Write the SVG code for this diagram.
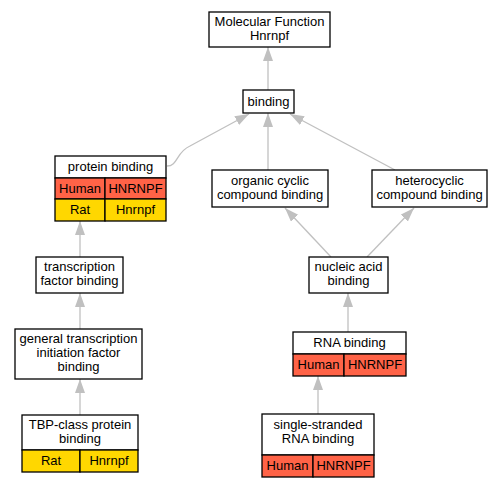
<svg xmlns="http://www.w3.org/2000/svg" width="503" height="483" viewBox="0 0 503 483">
<defs>
<style>
.box{fill:#fff;stroke:#000;stroke-width:1.3}
.hu{fill:#ff6347;stroke:#000;stroke-width:1.3}
.ra{fill:#ffd700;stroke:#000;stroke-width:1.3}
text{font-family:"Liberation Sans",Arial,sans-serif;font-size:13px;text-anchor:middle;fill:#000}
.e{fill:none;stroke:#c0c0c0;stroke-width:1.3;marker-end:url(#ah)}
</style>
<marker id="ah" markerUnits="userSpaceOnUse" markerWidth="15" markerHeight="11" refX="14" refY="5" orient="auto">
<path d="M0,0 L14,5 L0,10 Z" fill="#c0c0c0"/>
</marker>
</defs>
<rect width="503" height="483" fill="#fff"/>
<g id="edges">
<path class="e" d="M268,90 L268,47"/>
<path class="e" d="M268,170 L268,113"/>
<path class="e" d="M395,170 L290,114"/>
<path class="e" d="M167,166 C178,166 176,152 190,146 L249,114"/>
<path class="e" d="M331,257 L285,208"/>
<path class="e" d="M367,257 L414,208"/>
<path class="e" d="M348,332 L348,293"/>
<path class="e" d="M318,414 L318,376"/>
<path class="e" d="M80,257 L80,221"/>
<path class="e" d="M80,329 L80,293"/>
<path class="e" d="M80,415 L80,379"/>
</g>
<g id="mf">
<rect class="box" x="209" y="12" width="121" height="35"/>
<text x="269.5" y="26">Molecular Function</text>
<text x="269.5" y="40">Hnrnpf</text>
</g>
<g id="binding">
<rect class="box" x="243" y="90" width="51" height="23"/>
<text x="268.5" y="106">binding</text>
</g>
<g id="organic">
<rect class="box" x="212" y="170" width="116" height="37"/>
<text x="270" y="185">organic cyclic</text>
<text x="270" y="199">compound binding</text>
</g>
<g id="hetero">
<rect class="box" x="372" y="170" width="115" height="37"/>
<text x="429.5" y="185">heterocyclic</text>
<text x="429.5" y="199">compound binding</text>
</g>
<g id="protein">
<rect class="box" x="55" y="156" width="111" height="22"/>
<text x="110.5" y="171">protein binding</text>
<rect class="hu" x="55" y="178" width="50" height="21"/>
<rect class="hu" x="105" y="178" width="61" height="21"/>
<text x="80" y="193">Human</text>
<text x="135.5" y="193">HNRNPF</text>
<rect class="ra" x="55" y="199" width="50" height="22"/>
<rect class="ra" x="105" y="199" width="61" height="22"/>
<text x="80" y="214">Rat</text>
<text x="135.5" y="214">Hnrnpf</text>
</g>
<g id="tf">
<rect class="box" x="36" y="257" width="87" height="36"/>
<text x="79.5" y="271">transcription</text>
<text x="79.5" y="285">factor binding</text>
</g>
<g id="gtif">
<rect class="box" x="15" y="329" width="127" height="50"/>
<text x="78.5" y="343">general transcription</text>
<text x="78.5" y="357">initiation factor</text>
<text x="78.5" y="371">binding</text>
</g>
<g id="tbp">
<rect class="box" x="22" y="415" width="116" height="35"/>
<text x="80" y="429">TBP-class protein</text>
<text x="80" y="443">binding</text>
<rect class="ra" x="22" y="450" width="58" height="22"/>
<rect class="ra" x="80" y="450" width="58" height="22"/>
<text x="51" y="465">Rat</text>
<text x="109" y="465">Hnrnpf</text>
</g>
<g id="nucleic">
<rect class="box" x="309" y="257" width="79" height="36"/>
<text x="348.5" y="271">nucleic acid</text>
<text x="348.5" y="285">binding</text>
</g>
<g id="rna">
<rect class="box" x="293" y="332" width="113" height="22"/>
<text x="349.5" y="347">RNA binding</text>
<rect class="hu" x="293" y="354" width="51" height="22"/>
<rect class="hu" x="344" y="354" width="62" height="22"/>
<text x="318.5" y="369">Human</text>
<text x="375" y="369">HNRNPF</text>
</g>
<g id="ssrna">
<rect class="box" x="262" y="414" width="112" height="41"/>
<text x="318" y="429">single-stranded</text>
<text x="318" y="443">RNA binding</text>
<rect class="hu" x="262" y="455" width="51" height="22"/>
<rect class="hu" x="313" y="455" width="61" height="22"/>
<text x="287.5" y="470">Human</text>
<text x="343.5" y="470">HNRNPF</text>
</g>
</svg>
